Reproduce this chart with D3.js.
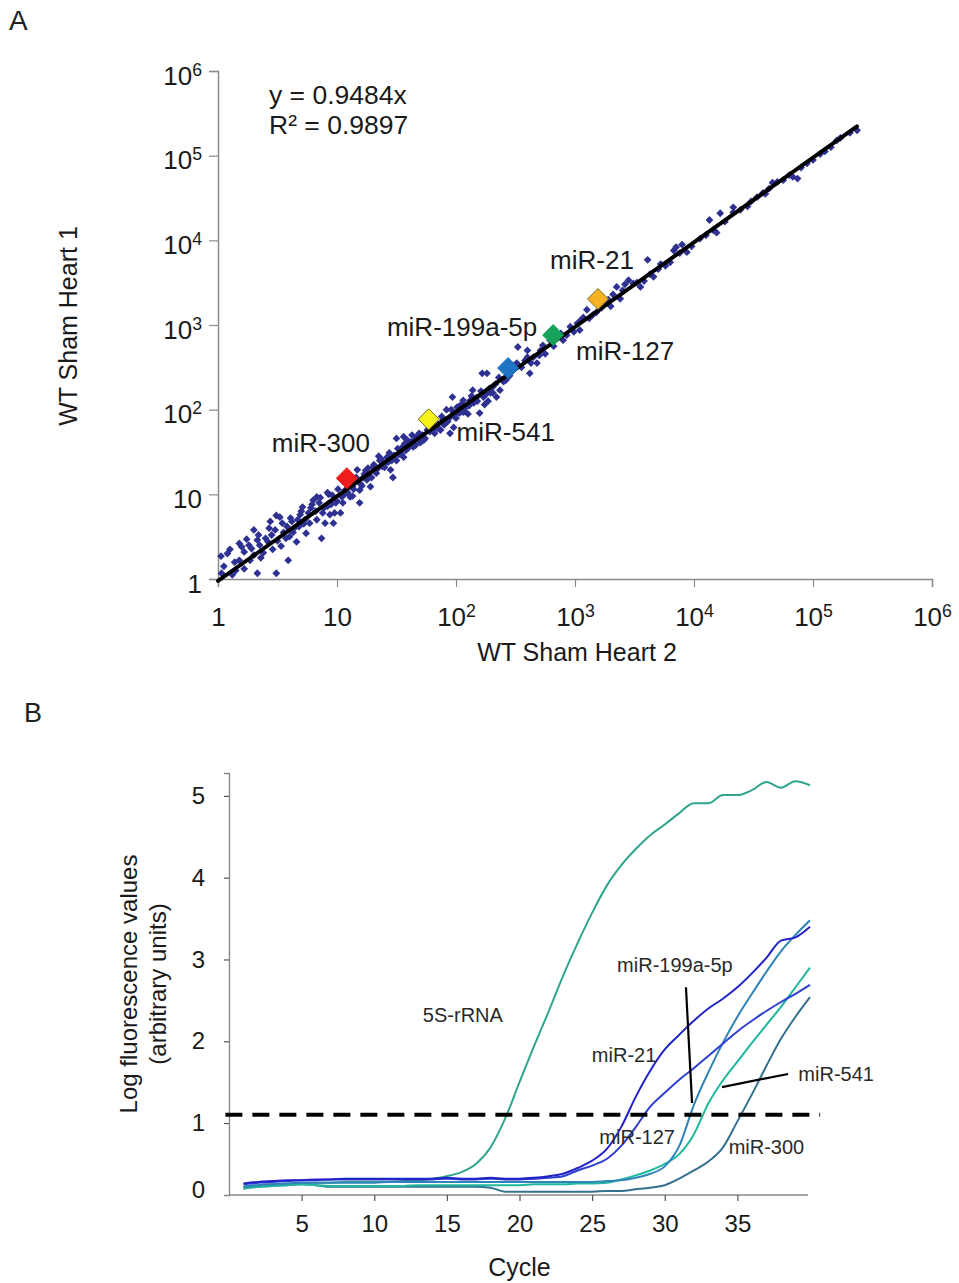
<!DOCTYPE html>
<html><head><meta charset="utf-8">
<script src="https://cdn.jsdelivr.net/npm/d3@7"></script>
<style>
body{margin:0;background:#fff}
svg{display:block}
text{font-family:"Liberation Sans",Arial,sans-serif}
</style></head>
<body><svg id="chart" width="959" height="1283"></svg>
<script>
// ---------------- Panel A data ----------------
const scatterX = [1.06,1.07,1.51,1.51,1.74,1.86,2.0,2.14,2.14,2.24,2.4,3.09,2.82,3.09,3.31,3.39,3.89,3.8,4.57,4.68,
5.13,5.5,5.75,6.31,6.76,7.41,7.59,7.94,9.33,9.55,9.12,6.76,10.7,11.0,11.2,11.7,12.9,13.5,15.5,15.5,
14.8,17.8,19.1,20.0,21.4,22.9,24.5,26.3,28.2,29.5,31.6,33.9,36.3,38.9,43.7,46.8,50.1,31.6,36.3,57.5,
74.1,77.6,89.1,95.5,102,115,132,158,170,195,204,219,89.1,69.2,1.26,1.38,1.66,1.91,2.51,2.69,
3.55,4.17,4.37,4.9,6.03,7.08,8.32,8.51,10.0,12.3,14.1,16.6,17.4,18.6,20.4,21.9,24.0,25.7,27.5,28.8,
33.1,35.5,38.0,41.7,44.7,52.5,55.0,60.3,63.1,66.1,79.4,85.1,100,107,120,126,141,148,178,186,
22.4,15.8,13.5,8.91,5.25,3.98,2.88,1.41,93.3,115,138,182,204,234,331,398,417,479,513,617,
794,912,1047,1175,1259,1096,2239,2512,2818,3090,3548,4074,4571,6761,7079,7586,8710,13490,16600,21380,
21380,15490,24550,33880,38020,45710,50120,56230,67610,74130,89130,100000,158500,169800,204200,234400,83.2,166,324,398,
282,355,447,562,708,851,1413,1660,1905,1995,3802,5012,5754,7943,11220,28180,39810,125900,251,302,
1.12,1.20,1.32,1.58,1.66,1.82,2.0,2.19,2.29,2.63,2.75,3.02,3.16,3.47,3.72,4.07,4.27,4.79,5.01,5.37,
5.89,6.17,6.61,7.24,7.76,8.32,8.71,9.77,10.2,11.5,12.6,13.8,14.5,16.2,17.0,18.2,19.5,20.9,23.4,25.1,
26.9,30.2,32.4,34.7,37.2,39.8,42.7,45.7,49.0,53.7,58.9,64.6,70.8,75.9,81.3,91.2,97.7,110,117,129,
135,151,162,174,191,214,229,263,295,380,427,501,537,661,759,977,1122,1318,1514,1778,
2089,2399,2630,3311,4266,5248,6310,9550,12590,14450,18200,30200,42660,63100,79430,114800,141300];
const scatterY = [1.86,1.17,2.63,1.66,2.95,1.66,3.8,2.88,1.17,2.51,2.04,1.17,3.31,5.62,5.37,2.45,1.66,4.17,2.75,5.01,
7.08,3.47,6.03,8.51,5.01,3.02,6.03,4.57,4.57,6.03,9.77,9.33,6.03,9.33,7.94,11.2,9.33,12.3,7.94,11.2,
19.5,14.8,12.3,20.9,17.8,25.1,23.4,27.5,19.5,15.8,25.1,33.1,27.5,43.7,36.3,47.9,40.7,45.7,47.9,57.5,
57.5,75.9,81.3,61.7,107,93.3,129,91.2,141,158,186,141,52.5,69.2,2.24,1.58,2.09,2.29,3.02,3.98,
3.55,4.79,3.98,5.75,6.92,7.94,7.24,10.0,8.32,10.5,14.1,15.8,19.1,16.6,22.4,20.0,21.4,24.0,30.9,25.1,
29.5,36.3,33.1,41.7,43.7,50.1,45.7,55.0,63.1,52.5,66.1,72.4,79.4,91.2,105,89.1,120,138,151,126,
28.2,13.2,9.55,7.59,4.47,3.16,2.24,1.26,141,129,170,269,158,170,550,417,269,355,501,661,
661,955,1047,1230,1514,871,2818,2570,3388,3090,2818,5888,3715,7586,8318,7079,7244,17380,20890,24550,
21380,12300,22910,32360,36310,47860,48980,51290,56230,53700,81280,89130,151400,162200,186200,199500,100,269,355,501,
251,316,417,457,708,759,1318,1585,1995,1660,3311,4571,5012,8913,10470,25120,35480,112200,214,331,
1.41,2.0,1.12,2.4,1.32,2.51,1.91,3.31,1.78,2.75,4.79,3.8,2.82,4.57,3.02,5.25,3.55,4.17,6.31,5.01,
4.57,7.59,6.31,9.12,6.92,10.5,5.75,7.94,11.5,10.0,13.8,11.5,15.8,12.6,17.4,20.4,15.8,19.1,26.3,20.9,
24.0,28.8,34.7,30.2,39.8,35.5,50.1,38.0,52.5,43.7,63.1,57.5,60.3,83.2,70.8,100,87.1,115,95.5,112,
145,126,166,115,178,200,240,224,282,380,355,437,575,562,794,832,1148,1202,1413,1820,
2291,2042,3020,3162,3981,5248,5495,8511,11480,13180,16600,28840,40740,58880,72440,104700,125900];

const highlightNames = ["miR-300","miR-541","miR-199a-5p","miR-127","miR-21"];
const highlightX = [12.1, 59, 274, 655, 1560];
const highlightY = [15.5, 77, 310, 760, 2030];
const highlightColors = ["#ee1c1c","#f6f21a","#1f74c6","#17a25a","#f5b324"];

const fitSlope = 0.9484;
const fitR2 = 0.9897;
const fitXRange = [1, 234000];
const logTickValues = [1, 10, 100, 1000, 10000, 100000, 1000000];

// ---------------- Panel B data ----------------
const cycles = [1,2,3,4,5,6,7,8,9,10,11,12,13,14,15,16,17,18,19,20,21,22,23,24,25,26,27,28,29,30,31,32,33,34,35,36,37,38,39,40];
const seriesNames = ["5S-rRNA","miR-21","miR-127","miR-199a-5p","miR-541","miR-300"];
const fiveS = [0.22,0.24,0.25,0.26,0.27,0.27,0.27,0.28,0.28,0.28,0.28,0.29,0.30,0.32,0.35,0.40,0.50,0.70,1.05,1.50,1.94,2.36,2.80,3.20,3.57,3.90,4.15,4.35,4.52,4.65,4.79,4.91,4.91,5.01,5.01,5.07,5.17,5.10,5.18,5.13];
const miR21 = [0.26,0.28,0.29,0.30,0.30,0.31,0.31,0.32,0.32,0.32,0.32,0.32,0.32,0.32,0.33,0.32,0.32,0.33,0.32,0.32,0.33,0.35,0.38,0.45,0.54,0.68,0.95,1.32,1.64,1.90,2.08,2.25,2.40,2.52,2.66,2.83,3.02,3.23,3.27,3.40];
const miR127 = [0.25,0.27,0.28,0.29,0.30,0.30,0.31,0.31,0.31,0.31,0.31,0.31,0.31,0.31,0.32,0.31,0.31,0.32,0.31,0.31,0.32,0.33,0.35,0.42,0.48,0.56,0.72,0.95,1.20,1.37,1.53,1.67,1.82,1.97,2.12,2.25,2.37,2.48,2.58,2.69];
const miR199 = [0.22,0.24,0.25,0.26,0.27,0.27,0.27,0.27,0.27,0.27,0.28,0.28,0.28,0.28,0.28,0.28,0.28,0.28,0.28,0.28,0.28,0.28,0.28,0.28,0.28,0.29,0.30,0.33,0.38,0.47,0.72,1.22,1.62,1.98,2.30,2.58,2.85,3.10,3.30,3.48];
const miR541 = [0.20,0.22,0.23,0.24,0.25,0.24,0.23,0.23,0.23,0.23,0.23,0.23,0.24,0.24,0.24,0.24,0.24,0.24,0.24,0.24,0.25,0.25,0.25,0.26,0.26,0.27,0.31,0.36,0.42,0.50,0.62,0.86,1.24,1.52,1.75,1.98,2.20,2.42,2.66,2.90];
const miR300 = [0.20,0.22,0.23,0.24,0.25,0.24,0.22,0.22,0.22,0.22,0.22,0.22,0.22,0.22,0.22,0.22,0.22,0.21,0.16,0.16,0.16,0.16,0.16,0.16,0.16,0.17,0.17,0.19,0.21,0.24,0.32,0.42,0.53,0.70,1.02,1.35,1.70,2.03,2.30,2.54];
const seriesColors = ["#2fa58e","#2222c8","#2f3fd2","#2e84b8","#1fb89c","#34708f"];
const threshold = 1.1;
const cycleTicks = [5,10,15,20,25,30,35];
const fluorTicks = [0,1,2,3,4,5];

// annotation anchors in data units (cycle, value)
const annoLabels = ["5S-rRNA","miR-199a-5p","miR-21","miR-541","miR-127","miR-300"];
const annoCycle = [16.1, 30.7, 27.2, 41.8, 28.1, 37.0];
const annoValue = [2.32, 2.93, 1.83, 1.60, 0.83, 0.71];
const leaderFrom = [[31.46, 2.66],[33.94, 1.44]];
const leaderTo   = [[31.88, 1.245],[38.49, 1.60]];

// ---------------- Drawing ----------------
const svg = d3.select("#chart");
const axisGray = "#8a8a8a";

// ===== Panel A =====
svg.append("text").attr("x", 9).attr("y", 30).attr("font-size", 28).attr("fill","#222").text("A");

const xA = d3.scaleLog().domain([1, 1e6]).range([218, 932]);
const yA = d3.scaleLog().domain([1, 1e6]).range([579, 71]);

function supLabel(sel, d) {
  const e = Math.round(Math.log10(d));
  sel.text(null);
  if (e < 2) { sel.text(String(d)); return; }
  sel.append("tspan").text("10");
  sel.append("tspan").attr("dy", "-0.5em").attr("font-size", "0.68em").text(String(e));
}

const gxA = svg.append("g").attr("transform", "translate(0,579)")
  .call(d3.axisBottom(xA).tickValues(logTickValues).tickSize(8).tickPadding(14).tickFormat(""));
const gyA = svg.append("g").attr("transform", "translate(218,0)")
  .call(d3.axisLeft(yA).tickValues(logTickValues).tickSize(9).tickPadding(7).tickFormat(""));
[gxA, gyA].forEach(g => {
  g.select(".domain").attr("stroke", axisGray).attr("stroke-width", 1.5);
  g.selectAll(".tick line").attr("stroke", axisGray).attr("stroke-width", 1.2);
});
gxA.selectAll(".tick text").attr("font-size", 26).attr("fill", "#1a1a1a").attr("dy", "0.95em")
  .each(function(d){ supLabel(d3.select(this), d); });
gyA.selectAll(".tick text").attr("font-size", 26).attr("fill", "#1a1a1a").attr("dy", "0.5em")
  .each(function(d){ supLabel(d3.select(this), d); });

// axis titles
svg.append("text").attr("x", 577).attr("y", 661).attr("text-anchor", "middle")
  .attr("font-size", 25).attr("fill", "#1a1a1a").text("WT Sham Heart 2");
svg.append("text").attr("transform", "translate(77,326) rotate(-90)").attr("text-anchor", "middle")
  .attr("font-size", 25).attr("fill", "#1a1a1a").text("WT Sham Heart 1");

// scatter points
const smallDiamond = "M0,-3.9L3.9,0L0,3.9L-3.9,0Z";
svg.append("g").selectAll("path").data(scatterX.map((x, i) => [x, scatterY[i]]))
  .join("path").attr("d", smallDiamond)
  .attr("transform", d => `translate(${xA(d[0])},${yA(d[1])})`)
  .attr("fill", "#2e3192");

// regression line
svg.append("line")
  .attr("x1", xA(fitXRange[0])).attr("y1", yA(fitXRange[0] * fitSlope))
  .attr("x2", xA(fitXRange[1])).attr("y2", yA(fitXRange[1] * fitSlope))
  .attr("stroke", "#000").attr("stroke-width", 4).attr("stroke-linecap", "round");

// highlighted miRNAs
const bigDiamond = "M0,-10.5L10.5,0L0,10.5L-10.5,0Z";
const hl = highlightNames.map((n, i) => ({n, x: highlightX[i], y: highlightY[i], c: highlightColors[i]}));
svg.append("g").selectAll("path").data(hl).join("path").attr("d", bigDiamond)
  .attr("transform", d => `translate(${xA(d.x)},${yA(d.y)})`)
  .attr("fill", d => d.c)
  .attr("stroke", d => (d.n === "miR-541" || d.n === "miR-21") ? "#7a6c2a" : d.c)
  .attr("stroke-width", 1);

// label offsets (pixels) relative to the marker
const hlLabelOffset = {"miR-300": [-26, -35], "miR-541": [77, 13], "miR-199a-5p": [-46, -41], "miR-127": [72, 16], "miR-21": [-6, -39]};
svg.append("g").selectAll("text").data(hl).join("text")
  .attr("x", d => xA(d.x) + hlLabelOffset[d.n][0])
  .attr("y", d => yA(d.y) + hlLabelOffset[d.n][1])
  .attr("dy", "0.35em").attr("text-anchor", "middle")
  .attr("font-size", 26).attr("fill", "#1a1a1a").text(d => d.n);

// equation
svg.append("text").attr("x", 269).attr("y", 104).attr("font-size", 26.5).attr("fill", "#1a1a1a")
  .text("y = " + fitSlope + "x");
svg.append("text").attr("x", 269).attr("y", 134).attr("font-size", 26.5).attr("fill", "#1a1a1a")
  .text("R² = " + fitR2);

// ===== Panel B =====
svg.append("text").attr("x", 24).attr("y", 722).attr("font-size", 27).attr("fill", "#222").text("B");

const xB = d3.scaleLinear().domain([0, 40]).range([229, 810]);
const yB = d3.scaleLinear().domain([0.12, 5.28]).range([1195, 773]).clamp(true);

const gxB = svg.append("g").attr("transform", "translate(0,1195)")
  .call(d3.axisBottom(xB).tickValues(cycleTicks).tickSize(6).tickPadding(14).tickFormat(d3.format("d")));
gxB.select(".domain").attr("d", `M${xB(0)},0H${xB(40) - 2}`);
const gyB = svg.append("g").attr("transform", "translate(229,0)")
  .call(d3.axisLeft(yB).tickValues(fluorTicks).tickSize(5).tickPadding(19).tickFormat(d3.format("d")));
[gxB, gyB].forEach(g => {
  g.select(".domain").attr("stroke", axisGray).attr("stroke-width", 1.4);
  g.selectAll(".tick line").attr("stroke", "#555").attr("stroke-width", 1.2);
  g.selectAll(".tick text").attr("font-size", 24).attr("fill", "#1a1a1a");
});
gyB.selectAll(".tick").filter(d => d === 0).select("line").remove();
gyB.selectAll(".tick text").filter(d => d === 0).attr("dy", "0.1em");

svg.append("text").attr("x", xB(20)).attr("y", 1276).attr("text-anchor", "middle")
  .attr("font-size", 25).attr("fill", "#1a1a1a").text("Cycle");
svg.append("text").attr("transform", "translate(137,984) rotate(-90)").attr("text-anchor", "middle")
  .attr("font-size", 24).attr("fill", "#1a1a1a").text("Log fluorescence values");
svg.append("text").attr("transform", "translate(166,984) rotate(-90)").attr("text-anchor", "middle")
  .attr("font-size", 24).attr("fill", "#1a1a1a").text("(arbitrary units)");

// curves
const allSeries = [fiveS, miR21, miR127, miR199, miR541, miR300];
const lineGen = d3.line().x((d, i) => xB(cycles[i])).y(d => yB(d)).curve(d3.curveMonotoneX);
const order = [0, 5, 4, 3, 2, 1];
svg.append("g").selectAll("path").data(order).join("path")
  .attr("d", k => lineGen(allSeries[k]))
  .attr("fill", "none").attr("stroke", k => seriesColors[k]).attr("stroke-width", 2)
  .attr("stroke-linejoin", "round");

// threshold
svg.append("line").attr("x1", xB(-0.25)).attr("x2", xB(40.7))
  .attr("y1", yB(threshold)).attr("y2", yB(threshold))
  .attr("stroke", "#000").attr("stroke-width", 4).attr("stroke-dasharray", "17,10");

// leader lines
leaderFrom.forEach((f, i) => {
  svg.append("line").attr("x1", xB(f[0])).attr("y1", yB(f[1]))
    .attr("x2", xB(leaderTo[i][0])).attr("y2", yB(leaderTo[i][1]))
    .attr("stroke", "#000").attr("stroke-width", 2.2);
});

// annotations
svg.append("g").selectAll("text").data(annoLabels).join("text")
  .attr("x", (d, i) => xB(annoCycle[i])).attr("y", (d, i) => yB(annoValue[i]))
  .attr("dy", "0.35em").attr("text-anchor", "middle")
  .attr("font-size", 20).attr("fill", "#2a2a2a").text(d => d);
</script>
</body></html>
